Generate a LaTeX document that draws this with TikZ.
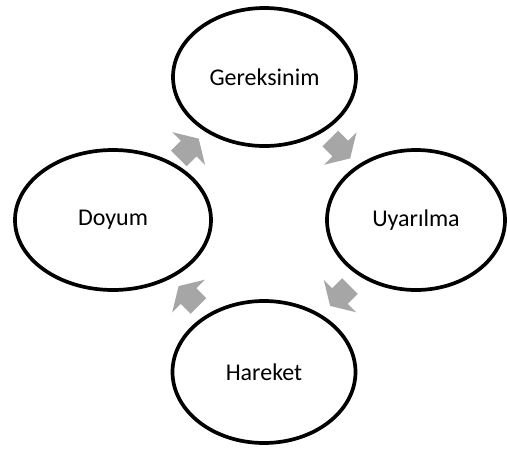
\documentclass[tikz,border=0pt]{standalone}
\usepackage{fontspec}
\setmainfont{Carlito}
\usetikzlibrary{shapes.geometric,calc}
\definecolor{arrowgray}{HTML}{A6A6A6}
\tikzset{
  stage/.style={draw=black, line width=3.7pt, ellipse, fill=white,
    font=\fontsize{24}{28}\selectfont, inner sep=0pt},
  cyclearrow/.pic={\fill[arrowgray] (-14,-11) -- (0,-11) -- (0,-23) -- (14,0)
    -- (0,23) -- (0,11) -- (-14,11) -- cycle;}
}
\begin{document}
\begin{tikzpicture}[x=1pt,y=-1pt]
\fill[white] (0,0) rectangle (507,448);
\useasboundingbox (0,0) rectangle (507,448);
\node[stage, minimum width=183pt, minimum height=138pt] (ger) at (264.5,77) {Gereksinim};
\node[stage, minimum width=178pt, minimum height=140pt] (uya) at (416,220) {Uyarılma};
\node[stage, minimum width=183pt, minimum height=142pt] (har) at (264,372) {Hareket};
\node[stage, minimum width=196pt, minimum height=140pt] (doy) at (113,220) {Doyum};
\path ($(doy)!0.5!(ger)$) pic[rotate=45] {cyclearrow};
\path ($(ger)!0.5!(uya)$) pic[rotate=-45] {cyclearrow};
\path ($(uya)!0.5!(har)$) pic[rotate=-135] {cyclearrow};
\path ($(har)!0.5!(doy)$) pic[rotate=135] {cyclearrow};
\end{tikzpicture}
\end{document}
